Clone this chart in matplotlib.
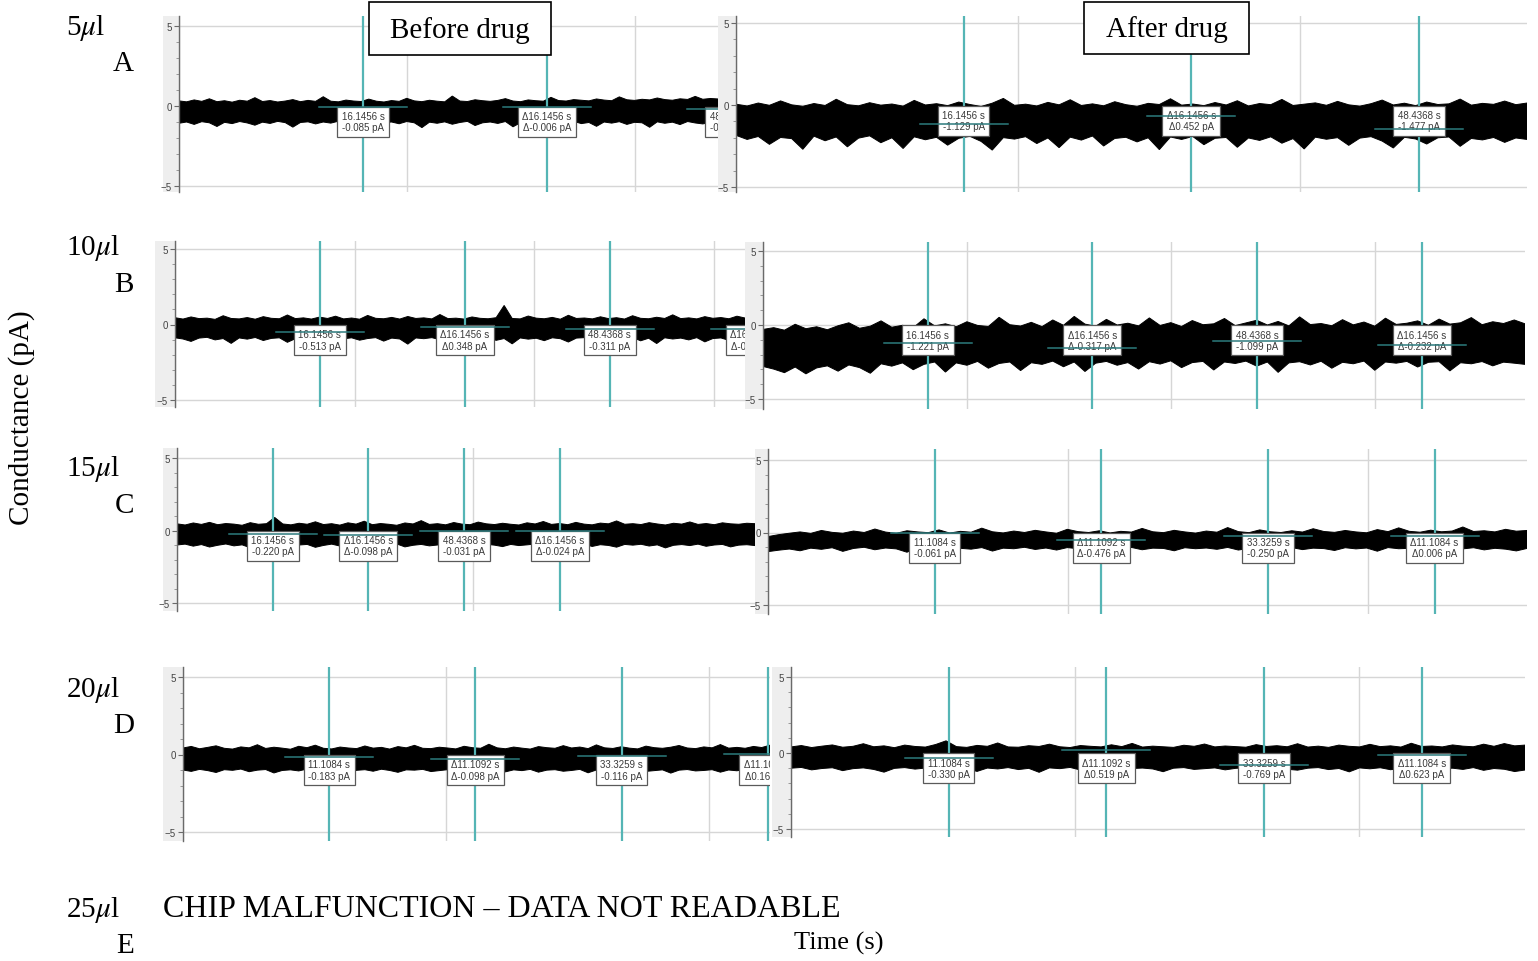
import numpy as np
import matplotlib
matplotlib.use("Agg")
import matplotlib.pyplot as plt
from matplotlib.patches import Rectangle

plt.rcParams['mathtext.fontset'] = 'stix'

W, H = 1538, 962

# ---- data: recording span (s), cursor times (s), cursor readouts (pA) ----
spans = {
    'A_before': 47.3, 'A_after': 56.1,
    'B_before': 63.5, 'B_after': 74.7,
    'C_before': 97.5, 'C_after': 50.6,
    'D_before': 44.6, 'D_after': 51.7,
}
grid_step = {
    'A_before': 20, 'A_after': 20, 'B_before': 20, 'B_after': 20,
    'C_before': 50, 'C_after': 20, 'D_before': 20, 'D_after': 20,
}

cursors_16 = [16.1456, 32.2912, 48.4368, 64.5824]
cursors_11 = [11.1084, 22.2176, 33.3259, 44.4343]

cursor_times = {
    'A_before': cursors_16[:3], 'A_after': cursors_16[:3],
    'B_before': cursors_16, 'B_after': cursors_16,
    'C_before': cursors_16, 'C_after': cursors_11,
    'D_before': cursors_11, 'D_after': cursors_11,
}
# even cursors: absolute value, odd cursors: delta to previous cursor
cursor_pa = {
    'A_before': [-0.085, -0.006, -0.215],
    'A_after': [-1.129, 0.452, -1.477],
    'B_before': [-0.513, 0.348, -0.311, -0.020],
    'B_after': [-1.221, -0.317, -1.099, -0.232],
    'C_before': [-0.220, -0.098, -0.031, -0.024],
    'C_after': [-0.061, -0.476, -0.250, 0.006],
    'D_before': [-0.183, -0.098, -0.116, 0.160],
    'D_after': [-0.330, 0.519, -0.769, 0.623],
}

# upper / lower envelope of the current trace (pA), read along each recording
upper = {
    'A_before': [0.32, 0.26, 0.38, 0.29, 0.45, 0.27, 0.33, 0.24, 0.36, 0.30, 0.52, 0.28, 0.34, 0.25, 0.31, 0.40,
                 0.27, 0.35, 0.29, 0.58, 0.30, 0.26, 0.37, 0.31, 0.28, 0.43, 0.30, 0.25, 0.34, 0.29, 0.48, 0.32,
                 0.27, 0.36, 0.30, 0.26, 0.62, 0.31, 0.28, 0.39, 0.33, 0.29, 0.35, 0.46, 0.31, 0.27, 0.38, 0.33,
                 0.30, 0.54, 0.34, 0.31, 0.40, 0.36, 0.32, 0.44, 0.37, 0.33, 0.57, 0.39, 0.35, 0.42, 0.38, 0.50,
                 0.40, 0.36, 0.45, 0.41, 0.60, 0.42, 0.47, 0.44],
    'A_after': [0.05, -0.06, 0.12, -0.02, 0.25, 0.01, -0.08, 0.09, -0.03, 0.35, 0.02, -0.05, 0.14, -0.01, 0.06,
                -0.07, 0.28, 0.00, 0.08, -0.04, 0.18, 0.03, -0.09, 0.11, 0.40, -0.02, 0.05, -0.06, 0.16, 0.01,
                0.32, -0.03, 0.07, -0.05, 0.20, 0.02, -0.08, 0.10, 0.03, 0.38, -0.01, 0.06, -0.04, 0.15, 0.00,
                0.26, -0.06, 0.09, 0.02, 0.34, -0.03, 0.05, 0.13, -0.02, 0.22, 0.01, -0.07, 0.08, 0.30, 0.00,
                0.11, -0.04, 0.18, 0.03, 0.07, 0.36, -0.01, 0.10, 0.04, 0.24, 0.02, 0.12],
    'B_before': [0.45, 0.36, 0.50, 0.39, 0.42, 0.34, 0.58, 0.40, 0.37, 0.46, 0.35, 0.52, 0.41, 0.38, 0.63, 0.39,
                 0.44, 0.36, 0.49, 0.40, 0.55, 0.37, 0.43, 0.35, 0.60, 0.41, 0.38, 0.47, 0.36, 0.53, 0.40, 0.44,
                 0.37, 0.66, 0.39, 0.42, 0.36, 0.50, 0.41, 0.38, 0.45, 1.26, 0.40, 0.37, 0.56, 0.42, 0.38, 0.47,
                 0.35, 0.61, 0.40, 0.43, 0.37, 0.51, 0.39, 0.45, 0.36, 0.58, 0.41, 0.38, 0.48, 0.40, 0.64, 0.39,
                 0.44, 0.37, 0.52, 0.41, 0.46, 0.38, 0.55, 0.43],
    'B_after': [-0.30, -0.18, -0.35, 0.05, -0.25, -0.12, -0.32, -0.05, 0.15, -0.22, -0.08, 0.28, -0.15, -0.02,
                -0.18, 0.42, -0.06, 0.08, -0.12, 0.22, -0.03, -0.10, 0.52, 0.02, -0.07, 0.18, -0.11, 0.34, -0.02,
                0.58, 0.06, -0.08, 0.38, 0.00, 0.12, -0.06, 0.48, -0.03, 0.16, -0.10, 0.30, 0.02, 0.08, 0.44,
                -0.04, 0.14, 0.32, 0.00, 0.24, -0.06, 0.55, 0.03, 0.10, -0.05, 0.36, 0.01, 0.20, -0.08, 0.46,
                0.04, 0.12, 0.28, -0.02, 0.40, 0.06, 0.15, 0.50, 0.02, 0.22, 0.10, 0.34, 0.08],
    'C_before': [0.46, 0.38, 0.52, 0.42, 0.56, 0.40, 0.48, 0.44, 0.36, 0.54, 0.43, 0.47, 0.90, 0.45, 0.39, 0.50,
                 0.43, 0.60, 0.41, 0.47, 0.37, 0.53, 0.44, 0.64, 0.40, 0.48, 0.43, 0.36, 0.52, 0.45, 0.68, 0.42,
                 0.47, 0.39, 0.55, 0.44, 0.40, 0.58, 0.46, 0.41, 0.50, 0.43, 0.38, 0.53, 0.45, 0.62, 0.42, 0.48,
                 0.40, 0.56, 0.44, 0.39, 0.51, 0.46, 0.66, 0.43, 0.47, 0.41, 0.54, 0.45, 0.38, 0.50, 0.44, 0.59,
                 0.42, 0.48, 0.40, 0.53, 0.46, 0.43, 0.50, 0.47],
    'C_after': [-0.28, -0.15, -0.05, 0.04, -0.06, 0.14, 0.01, -0.05, 0.10, 0.00, 0.24, 0.03, -0.06, 0.12, 0.04,
                -0.01, 0.18, -0.04, 0.08, 0.02, 0.30, 0.05, -0.03, 0.10, 0.00, 0.15, 0.04, -0.05, 0.22, 0.06,
                0.00, 0.12, -0.03, 0.08, 0.03, 0.28, 0.05, -0.01, 0.15, 0.04, -0.04, 0.10, 0.02, 0.34, 0.06,
                -0.01, 0.18, 0.05, 0.00, 0.12, 0.03, 0.26, 0.07, 0.01, 0.14, 0.04, -0.02, 0.20, 0.06, 0.32,
                0.08, 0.02, 0.16, 0.05, 0.10, 0.38, 0.07, 0.12, 0.04, 0.22, 0.09, 0.14],
    'D_before': [0.42, 0.52, 0.37, 0.46, 0.56, 0.40, 0.35, 0.49, 0.43, 0.63, 0.39, 0.47, 0.41, 0.34, 0.53, 0.44,
                 0.60, 0.40, 0.36, 0.48, 0.42, 0.38, 0.55, 0.41, 0.46, 0.35, 0.51, 0.43, 0.59, 0.40, 0.38, 0.47,
                 0.42, 0.36, 0.53, 0.44, 0.40, 0.66, 0.43, 0.37, 0.48, 0.41, 0.35, 0.51, 0.44, 0.40, 0.57, 0.42,
                 0.48, 0.38, 0.62, 0.43, 0.39, 0.50, 0.41, 0.36, 0.54, 0.44, 0.40, 0.47, 0.58, 0.42, 0.38, 0.49,
                 0.43, 0.64, 0.41, 0.46, 0.40, 0.52, 0.45, 0.60],
    'D_after': [0.40, 0.49, 0.36, 0.45, 0.53, 0.38, 0.44, 0.61, 0.41, 0.47, 0.35, 0.52, 0.43, 0.39, 0.56, 0.80,
                0.42, 0.37, 0.50, 0.44, 0.66, 0.40, 0.38, 0.48, 0.43, 0.58, 0.41, 0.36, 0.49, 0.44, 0.40, 0.54,
                0.42, 0.63, 0.39, 0.45, 0.41, 0.37, 0.51, 0.44, 0.59, 0.40, 0.46, 0.42, 0.38, 0.55, 0.43, 0.48,
                0.41, 0.61, 0.39, 0.45, 0.37, 0.52, 0.44, 0.40, 0.57, 0.42, 0.47, 0.39, 0.64, 0.43, 0.46, 0.40,
                0.53, 0.45, 0.41, 0.58, 0.44, 0.62, 0.47, 0.52],
}
lower = {
    'A_before': [-1.08, -1.00, -1.15, -0.98, -1.05, -1.28, -1.02, -1.10, -0.97, -1.06, -1.20, -1.01, -1.09, -0.96,
                 -1.04, -1.32, -1.03, -0.99, -1.12, -1.00, -1.07, -0.95, -1.18, -1.02, -1.06, -0.98, -1.25, -1.04,
                 -1.00, -1.11, -0.97, -1.05, -1.35, -1.01, -1.08, -0.99, -1.14, -1.03, -0.96, -1.22, -1.05, -1.00,
                 -1.09, -0.97, -1.30, -1.04, -1.02, -1.13, -0.98, -1.06, -1.19, -1.01, -0.96, -1.10, -1.03, -1.27,
                 -1.00, -1.07, -0.98, -1.15, -1.02, -1.05, -1.33, -0.99, -1.08, -1.01, -1.16, -0.97, -1.06, -1.12,
                 -1.03, -1.09],
    'A_after': [-1.85, -2.10, -1.92, -2.40, -1.98, -2.05, -2.70, -1.90, -2.18, -1.95, -2.55, -2.02, -1.88, -2.30,
                -2.00, -2.65, -1.94, -2.12, -1.97, -2.45, -2.03, -1.91, -2.22, -2.75, -1.99, -2.08, -1.93, -2.35,
                -2.01, -2.60, -1.96, -2.14, -1.89, -2.50, -2.04, -1.97, -2.25, -2.00, -2.72, -1.95, -2.10, -1.92,
                -2.42, -2.03, -1.98, -2.58, -2.01, -2.16, -1.94, -2.33, -2.05, -2.68, -1.96, -2.09, -1.99, -2.46,
                -2.02, -1.93, -2.20, -2.62, -1.97, -2.07, -2.38, -2.00, -1.95, -2.52, -2.04, -2.13, -1.98, -2.28,
                -2.01, -2.10],
    'B_before': [-0.88, -0.96, -1.12, -0.90, -0.85, -1.02, -0.93, -1.25, -0.89, -0.97, -0.86, -1.06, -0.92, -0.88,
                 -1.18, -0.94, -0.90, -1.00, -0.86, -1.22, -0.91, -0.95, -0.88, -1.04, -0.93, -0.87, -1.10, -0.90,
                 -0.96, -1.30, -0.89, -0.94, -0.87, -1.01, -0.92, -0.88, -1.14, -0.95, -0.90, -0.86, -1.05, -0.93,
                 -1.28, -0.89, -0.97, -0.91, -1.07, -0.88, -0.94, -1.16, -0.90, -0.87, -1.03, -0.92, -1.20, -0.89,
                 -0.95, -0.86, -1.08, -0.91, -1.26, -0.88, -0.96, -0.90, -1.02, -0.87, -1.15, -0.93, -0.89, -1.05,
                 -0.91, -0.94],
    'B_after': [-2.80, -2.98, -3.22, -2.84, -3.30, -2.90, -2.76, -3.12, -2.70, -2.88, -3.26, -2.62, -2.78, -2.56,
                -3.02, -2.66, -2.50, -3.18, -2.56, -2.72, -2.46, -2.92, -2.60, -2.50, -3.08, -2.55, -2.66, -2.44,
                -2.82, -2.50, -3.14, -2.58, -2.46, -2.72, -2.54, -2.98, -2.48, -2.64, -2.42, -2.88, -2.54, -2.46,
                -3.04, -2.50, -2.60, -2.44, -2.78, -2.50, -3.20, -2.56, -2.48, -2.70, -2.45, -2.92, -2.52, -2.62,
                -2.44, -3.06, -2.50, -2.58, -2.46, -2.84, -2.52, -2.48, -3.10, -2.55, -2.62, -2.47, -2.76, -2.51,
                -2.58, -2.66],
    'C_before': [-1.00, -0.94, -1.08, -0.97, -1.14, -1.02, -0.93, -1.06, -0.99, -1.19, -1.01, -0.95, -1.05, -0.92,
                 -1.12, -1.00, -0.96, -1.16, -1.03, -0.94, -1.07, -0.98, -1.21, -1.01, -0.95, -1.09, -0.99, -0.93,
                 -1.13, -1.02, -0.96, -1.06, -1.00, -0.94, -1.17, -1.03, -0.97, -1.08, -0.95, -1.01, -1.11, -0.96,
                 -1.04, -0.99, -0.93, -1.18, -1.02, -0.97, -1.05, -1.00, -0.94, -1.10, -0.98, -1.03, -1.15, -0.96,
                 -1.01, -0.95, -1.07, -0.99, -1.20, -1.02, -0.97, -1.04, -0.94, -1.09, -1.00, -0.96, -1.13, -1.01,
                 -0.98, -1.04],
    'C_after': [-1.32, -1.22, -1.14, -1.26, -1.08, -1.16, -1.05, -1.30, -1.10, -1.02, -1.19, -1.07, -1.13, -1.36,
                -1.06, -1.10, -1.03, -1.23, -1.09, -1.15, -1.04, -1.28, -1.08, -1.12, -1.02, -1.17, -1.07, -1.21,
                -1.04, -1.12, -1.09, -1.33, -1.06, -1.13, -1.03, -1.19, -1.08, -1.10, -1.26, -1.05, -1.12, -1.07,
                -1.16, -1.03, -1.21, -1.09, -1.31, -1.06, -1.14, -1.04, -1.18, -1.08, -1.11, -1.24, -1.05, -1.13,
                -1.07, -1.29, -1.04, -1.12, -1.09, -1.17, -1.06, -1.34, -1.08, -1.13, -1.05, -1.20, -1.09, -1.15,
                -1.27, -1.10],
    'D_before': [-1.00, -1.09, -0.96, -1.04, -1.16, -0.98, -1.02, -0.94, -1.11, -1.01, -0.97, -1.19, -1.03, -0.99,
                 -1.06, -0.94, -1.13, -1.00, -1.05, -0.96, -1.21, -1.02, -0.98, -1.08, -0.95, -1.03, -1.15, -0.99,
                 -1.01, -0.96, -1.10, -1.04, -0.98, -1.17, -1.00, -0.95, -1.07, -1.02, -0.97, -1.12, -0.99, -1.04,
                 -0.96, -1.14, -1.01, -0.98, -1.08, -1.03, -0.96, -1.18, -1.00, -1.05, -0.97, -1.11, -1.02, -0.95,
                 -1.09, -1.04, -0.99, -1.20, -1.01, -0.97, -1.06, -1.03, -0.98, -1.14, -1.00, -1.05, -0.96, -1.10,
                 -1.02, -1.06],
    'D_after': [-1.00, -0.95, -1.11, -1.02, -0.97, -1.16, -1.03, -0.98, -1.08, -1.26, -1.01, -0.96, -1.06, -0.99,
                -1.13, -1.02, -0.97, -1.04, -1.21, -0.99, -1.05, -0.96, -1.09, -1.01, -1.27, -0.98, -1.03, -0.95,
                -1.12, -1.00, -1.06, -0.97, -1.15, -1.02, -0.99, -1.05, -1.23, -1.00, -0.96, -1.08, -1.03, -0.98,
                -1.11, -1.01, -0.97, -1.17, -1.04, -0.99, -1.07, -1.13, -1.00, -0.96, -1.09, -1.02, -1.24, -0.98,
                -1.04, -0.97, -1.10, -1.01, -1.06, -0.98, -1.19, -1.03, -1.00, -1.08, -0.96, -1.14, -1.02, -1.07,
                -1.22, -1.12],
}

row_labels = [('5', 'A'), ('10', 'B'), ('15', 'C'), ('20', 'D'), ('25', 'E')]

# ---- layout in pixels: strip left, spine, right, top, bottom, y(+5), y(-5) ----
layout = {
    'A_before': (163, 179, 718, 17, 193, 27, 187),
    'A_after': (718, 736, 1527, 17, 193, 24, 188),
    'B_before': (155, 175, 745, 242, 408, 250, 401),
    'B_after': (745, 763, 1525, 243, 410, 252, 400),
    'C_before': (163, 177, 755, 449, 612, 459, 604),
    'C_after': (755, 768, 1527, 450, 615, 461, 606),
    'D_before': (163, 183, 770, 668, 842, 678, 833),
    'D_after': (772, 791, 1525, 668, 838, 678, 830),
}

TEAL = '#55b5b5'
TEAL_DARK = '#2c7b7d'
GRID = '#d6d6d6'
STRIP = '#eeeeee'


def fx(x):
    return x / W


def fy(y):
    return 1 - y / H


fig = plt.figure(figsize=(W / 100, H / 100), dpi=100)

for key, (x0, xs, x1, yt, yb, y5, ym5) in layout.items():
    # grey y-axis strip
    fig.add_artist(Rectangle((fx(x0), fy(yb)), (xs - x0) / W, (yb - yt) / H,
                             transform=fig.transFigure, fc=STRIP, ec='none', zorder=-1))
    ax = fig.add_axes([fx(xs), fy(yb), (x1 - xs) / W, (yb - yt) / H])
    T = spans[key]
    ppu = (ym5 - y5) / 10.0
    ax.set_xlim(0, T)
    ax.set_ylim(-5 - (yb - ym5) / ppu, 5 + (y5 - yt) / ppu)

    for s in ['top', 'right', 'bottom']:
        ax.spines[s].set_visible(False)
    ax.spines['left'].set_color('#6a6a6a')
    ax.spines['left'].set_linewidth(1.0)

    ax.set_yticks([-5, 0, 5])
    ax.set_yticks(np.arange(-5, 6, 1), minor=True)
    ax.tick_params(axis='y', which='major', length=3.5, width=0.8, color='#6a6a6a',
                   labelsize=7, labelcolor='#444444', pad=1.5)
    ax.tick_params(axis='y', which='minor', length=2, width=0.6, color='#8a8a8a')
    for lab in ax.get_yticklabels():
        lab.set_family('Liberation Sans')

    ax.set_xticks(np.arange(0, T, grid_step[key]))
    ax.tick_params(axis='x', length=0, labelbottom=False)
    ax.grid(True, which='major', color=GRID, lw=1.0, zorder=0)
    ax.set_axisbelow(True)

    # current trace envelope (upper edge forward, lower edge back)
    up = np.array(upper[key])
    lo = np.array(lower[key])
    tu = np.linspace(0, T, len(up))
    tl = np.linspace(0, T, len(lo))
    ax.fill(np.r_[tu, tl[::-1]], np.r_[up, lo[::-1]], color='black', lw=0.7, zorder=2)

    # cursors
    px_per_s = (x1 - xs) / T
    half = 44 / px_per_s
    times = cursor_times[key]
    vals = cursor_pa[key]
    level = 0.0
    for i, (tc, v) in enumerate(zip(times, vals)):
        if i % 2 == 0:
            label = f"{tc:.4f} s\n{v:.3f} pA"
            level = v
        else:
            label = f"\u0394{tc - times[i - 1]:.4f} s\n\u0394{v:.3f} pA"
            level = level + v
        ax.axvline(tc, color=TEAL, lw=1.6, zorder=3)
        ax.text(tc, -0.32, label, ha='center', va='top', fontsize=7,
                family='Liberation Sans', color='#3a3a3a', linespacing=1.15,
                bbox=dict(boxstyle='square,pad=0.45', fc='white', ec='#5a5a5a', lw=0.9),
                zorder=4, clip_on=True)
        ax.plot([tc - half, tc + half], [level, level], color=TEAL_DARK, lw=1.1, zorder=5)

# ---- row labels ----
row_y = [(28, 64), (248, 285), (469, 506), (690, 726), (910, 946)]
for (vol, letter), (ya, yb_) in zip(row_labels, row_y):
    fig.text(fx(66), fy(ya), vol + r'$\mu$l', family='Liberation Serif', fontsize=21,
             ha='left', va='center')
    fig.text(fx(134), fy(yb_), letter, family='Liberation Serif', fontsize=21,
             ha='right', va='center')

fig.text(fx(22), fy(418), 'Conductance (pA)', family='Liberation Serif', fontsize=21,
         rotation=90, ha='center', va='center')
fig.text(fx(163), fy(910), 'CHIP MALFUNCTION \u2013 DATA NOT READABLE', family='Liberation Serif',
         fontsize=23, ha='left', va='center')
fig.text(fx(839), fy(943), 'Time (s)', family='Liberation Serif', fontsize=19,
         ha='center', va='center')

# ---- before / after boxes ----
for (bx0, by0, bx1, by1), txt in [((369, 3, 551, 56), 'Before drug'), ((1084, 3, 1249, 55), 'After drug')]:
    fig.add_artist(Rectangle((fx(bx0), fy(by1)), (bx1 - bx0) / W, (by1 - by0) / H,
                             transform=fig.transFigure, fc='white', ec='black', lw=1.2, zorder=6))
    fig.text(fx((bx0 + bx1) / 2), fy((by0 + by1) / 2 + 1), txt, family='Liberation Serif',
             fontsize=21, ha='center', va='center', zorder=7)

fig.savefig('out.png', dpi=100)
